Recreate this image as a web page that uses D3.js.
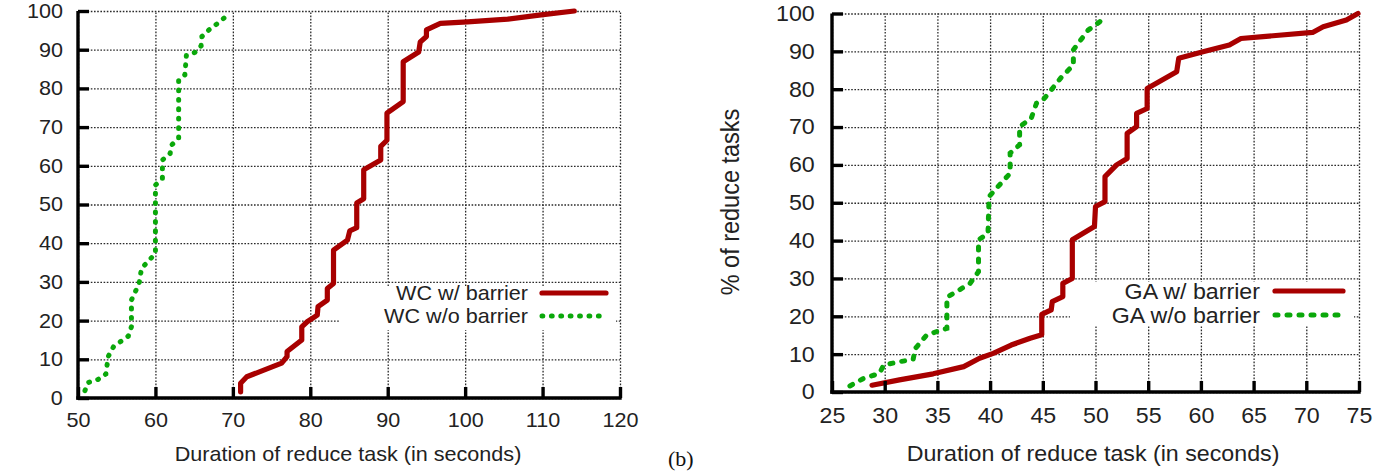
<!DOCTYPE html>
<html>
<head>
<meta charset="utf-8">
<script src="https://cdn.jsdelivr.net/npm/d3@7"></script>
<style>
  html, body { margin: 0; padding: 0; background: #fff; }
  svg { display: block; }
</style>
</head>
<body>
<svg id="chart" width="1374" height="473"></svg>
<script>
// ---------------- data ----------------
const pctTicks = [0, 10, 20, 30, 40, 50, 60, 70, 80, 90, 100];
const wcTicks = [50, 60, 70, 80, 90, 100, 110, 120];
const gaTicks = [25, 30, 35, 40, 45, 50, 55, 60, 65, 70, 75];

const xLabel = "Duration of reduce task (in seconds)";
const yLabel = "% of reduce tasks";
const wcNames = ["WC w/ barrier", "WC w/o barrier"];
const gaNames = ["GA w/ barrier", "GA w/o barrier"];

// WC with barrier (red)
const wcBarrierX = [71.0, 71.0, 71.8, 74.0, 76.3, 77.0, 77.0, 78.9, 78.9, 79.6, 80.9, 81.0, 82.2, 82.2, 83.0, 83.0, 84.8, 85.1, 86.0, 86.0, 86.9, 86.9, 89.1, 89.1, 89.9, 89.9, 92.0, 92.0, 94.0, 94.2, 95.0, 95.0, 96.8, 100.3, 105.5, 109.8, 114.1];
const wcBarrierY = [1.6, 3.8, 5.5, 7.2, 9.0, 10.7, 12.0, 15.0, 18.4, 19.7, 21.4, 23.6, 25.3, 28.3, 29.6, 38.2, 40.8, 43.2, 44.0, 50.4, 51.5, 59.0, 61.5, 65.0, 66.6, 73.6, 76.6, 86.9, 89.4, 92.0, 93.4, 95.1, 96.8, 97.2, 97.9, 99.0, 100.0];
// WC without barrier (green)
const wcNoBarrierX = [50.9, 51.3, 52.6, 53.6, 53.9, 54.6, 56.5, 56.9, 56.9, 57.2, 57.9, 58.2, 59.3, 60.0, 60.0, 60.0, 60.9, 60.9, 61.9, 62.1, 63.0, 63.0, 63.8, 64.0, 65.1, 65.9, 66.0, 66.9, 67.9, 69.0];
const wcNoBarrierY = [1.9, 4.0, 4.8, 6.2, 10.7, 13.3, 16.0, 18.4, 25.3, 26.6, 29.6, 33.5, 35.8, 37.4, 50.3, 55.0, 56.8, 61.5, 63.2, 65.4, 67.1, 82.2, 83.5, 88.6, 89.3, 91.0, 93.4, 95.1, 96.6, 98.4];

// GA with barrier (red)
const gaBarrierX = [28.8, 31.4, 34.6, 37.5, 39.0, 40.3, 42.0, 43.8, 44.9, 44.9, 45.8, 45.9, 46.9, 46.9, 47.8, 47.8, 49.9, 50.0, 50.9, 50.9, 52.0, 53.0, 53.0, 53.9, 53.9, 54.9, 54.9, 57.7, 57.9, 60.2, 62.7, 63.8, 65.9, 70.6, 71.6, 73.8, 74.9];
const gaBarrierY = [1.8, 3.2, 4.8, 6.7, 8.9, 10.2, 12.4, 14.2, 15.1, 20.5, 21.7, 23.9, 25.2, 28.7, 30.0, 40.2, 43.7, 49.0, 50.3, 56.9, 60.0, 61.7, 68.3, 70.1, 73.6, 74.9, 80.2, 84.6, 88.2, 89.9, 91.7, 93.4, 93.9, 95.0, 96.5, 98.3, 100.0];
// GA without barrier (green)
const gaNoBarrierX = [26.7, 28.0, 29.5, 29.9, 31.4, 32.7, 32.9, 34.0, 35.9, 35.9, 36.8, 38.1, 38.9, 38.9, 39.8, 39.9, 40.6, 41.9, 41.9, 42.8, 42.8, 43.9, 44.4, 45.0, 45.8, 46.8, 47.9, 47.9, 49.3, 50.4, 51.0];
const gaNoBarrierY = [1.6, 3.6, 4.9, 7.1, 8.0, 8.6, 11.5, 15.1, 16.8, 25.0, 26.5, 28.7, 31.8, 40.2, 41.9, 51.6, 53.8, 57.8, 63.1, 65.3, 70.1, 72.3, 76.3, 77.1, 79.8, 83.3, 86.4, 90.4, 95.6, 97.8, 99.6];

// ---------------- styles ----------------
const RED = "#a80000";
const GREEN = "#0aa80a";
const FONT = "'Liberation Sans', Arial, Helvetica, sans-serif";

const svg = d3.select("#chart");

function zip(xs, ys) { return xs.map((x, i) => [x, ys[i]]); }

function panel(cfg) {
  const x = d3.scaleLinear().domain(cfg.xDomain).range(cfg.xRange);
  const y = d3.scaleLinear().domain([0, 100]).range(cfg.yRange);
  const g = svg.append("g");
  const [x0, x1] = cfg.xRange;
  const [y0, y1] = cfg.yRange;
  const sx = cfg.stretch;

  // grid (vertical)
  const gx = g.append("g").attr("transform", `translate(0,${y0})`)
    .call(d3.axisBottom(x).tickValues(cfg.xTicks).tickSize(-(y0 - y1)).tickSizeOuter(0).tickFormat(""));
  gx.select(".domain").remove();
  gx.selectAll("line").attr("stroke", "#2a2a2a").attr("stroke-width", 1.3).attr("stroke-dasharray", "1.6,1.6");
  // grid (horizontal)
  const gy = g.append("g").attr("transform", `translate(${x0},0)`)
    .call(d3.axisLeft(y).tickValues(pctTicks).tickSize(-(x1 - x0)).tickSizeOuter(0).tickFormat(""));
  gy.select(".domain").remove();
  gy.selectAll("line").attr("stroke", "#2a2a2a").attr("stroke-width", 1.3).attr("stroke-dasharray", "1.6,1.6");

  // opaque legend box
  g.append("rect").attr("x", cfg.keyBox[0]).attr("y", cfg.keyBox[1])
    .attr("width", cfg.keyBox[2]).attr("height", cfg.keyBox[3]).attr("fill", "#fff");

  // curves
  const line = d3.line().x(d => x(d[0])).y(d => y(d[1]));
  g.append("path").datum(zip(cfg.redX, cfg.redY)).attr("d", line)
    .attr("fill", "none").attr("stroke", RED).attr("stroke-width", 5.2)
    .attr("stroke-linejoin", "round").attr("stroke-linecap", "round");
  g.append("path").datum(zip(cfg.greenX, cfg.greenY)).attr("d", line)
    .attr("fill", "none").attr("stroke", GREEN).attr("stroke-width", 5)
    .attr("stroke-linecap", "round").attr("stroke-dasharray", cfg.greenDash);

  // axes
  const ax = g.append("g").attr("transform", `translate(0,${y0})`)
    .call(d3.axisBottom(x).tickValues(cfg.xTicks).tickSize(-11).tickSizeOuter(0).tickPadding(cfg.xPad));
  ax.select(".domain").attr("stroke", "#000").attr("stroke-width", 3.4)
    .attr("d", `M${x0 - 1.7},0H${x1 + 1.7}`);
  ax.selectAll("line").attr("stroke", "#000").attr("stroke-width", 3.4);
  ax.selectAll("text").attr("font-family", FONT).attr("font-size", cfg.fs).attr("fill", "#222")
    .attr("transform", `scale(${sx},1)`);

  const ay = g.append("g").attr("transform", `translate(${x0},0)`)
    .call(d3.axisLeft(y).tickValues(pctTicks).tickSize(-11).tickSizeOuter(0).tickPadding(cfg.yPad));
  ay.select(".domain").attr("stroke", "#000").attr("stroke-width", 3.4)
    .attr("d", `M0,${y0 + 1.7}V${y1}`);
  ay.selectAll("line").attr("stroke", "#000").attr("stroke-width", 3.4);
  ay.selectAll("text").attr("font-family", FONT).attr("font-size", cfg.fs).attr("fill", "#222")
    .attr("transform", `scale(${sx},1)`);

  // x axis label
  g.append("text").attr("transform", `translate(${cfg.xLabelPos[0]},${cfg.xLabelPos[1]}) scale(${sx},1)`)
    .attr("text-anchor", "middle").attr("font-family", FONT).attr("font-size", cfg.fs).attr("fill", "#222")
    .text(xLabel);

  // legend
  cfg.names.forEach((name, i) => {
    const ly = cfg.keyRows[i];
    g.append("text").attr("transform", `translate(${cfg.keyTextX},${ly}) scale(${sx},1)`)
      .attr("text-anchor", "end").attr("dy", "0.35em").attr("font-family", FONT)
      .attr("font-size", cfg.fs).attr("fill", "#222").text(name);
    const s = g.append("line").attr("x1", cfg.keySample[0]).attr("x2", cfg.keySample[1])
      .attr("y1", ly).attr("y2", ly).attr("stroke-linecap", "round");
    if (i === 0) s.attr("stroke", RED).attr("stroke-width", 5.2);
    else s.attr("stroke", GREEN).attr("stroke-width", 5).attr("stroke-dasharray", cfg.greenDash);
  });
  return g;
}

// left panel (WC)
panel({
  xDomain: [50, 120], xRange: [78, 620], yRange: [398, 11],
  xTicks: wcTicks, fs: 20, stretch: 1.08, xPad: 15, yPad: 14,
  redX: wcBarrierX, redY: wcBarrierY, greenX: wcNoBarrierX, greenY: wcNoBarrierY,
  greenDash: "0.8,8.6",
  names: wcNames, keyBox: [340, 286, 276, 44], keyRows: [293, 316],
  keyTextX: 528, keySample: [542, 606],
  xLabelPos: [348, 461]
});

// right panel (GA)
panel({
  xDomain: [25, 75], xRange: [832, 1359], yRange: [392, 13.5],
  xTicks: gaTicks, fs: 21.5, stretch: 1.08, xPad: 16, yPad: 16,
  redX: gaBarrierX, redY: gaBarrierY, greenX: gaNoBarrierX, greenY: gaNoBarrierY,
  greenDash: "3,9",
  names: gaNames, keyBox: [1070, 282, 284, 43], keyRows: [291, 315],
  keyTextX: 1260, keySample: [1275, 1343],
  xLabelPos: [1093, 461]
});

// y label of right panel
svg.append("text")
  .attr("transform", "translate(739,202) rotate(-90) scale(1,1.08)")
  .attr("text-anchor", "middle").attr("font-family", FONT).attr("font-size", 23.5).attr("fill", "#222")
  .text(yLabel);

// sub-figure label
svg.append("text").attr("x", 668).attr("y", 466)
  .attr("font-family", "'Liberation Serif', 'Times New Roman', serif").attr("font-size", 22).attr("fill", "#111")
  .text("(b)");
</script>
</body>
</html>
